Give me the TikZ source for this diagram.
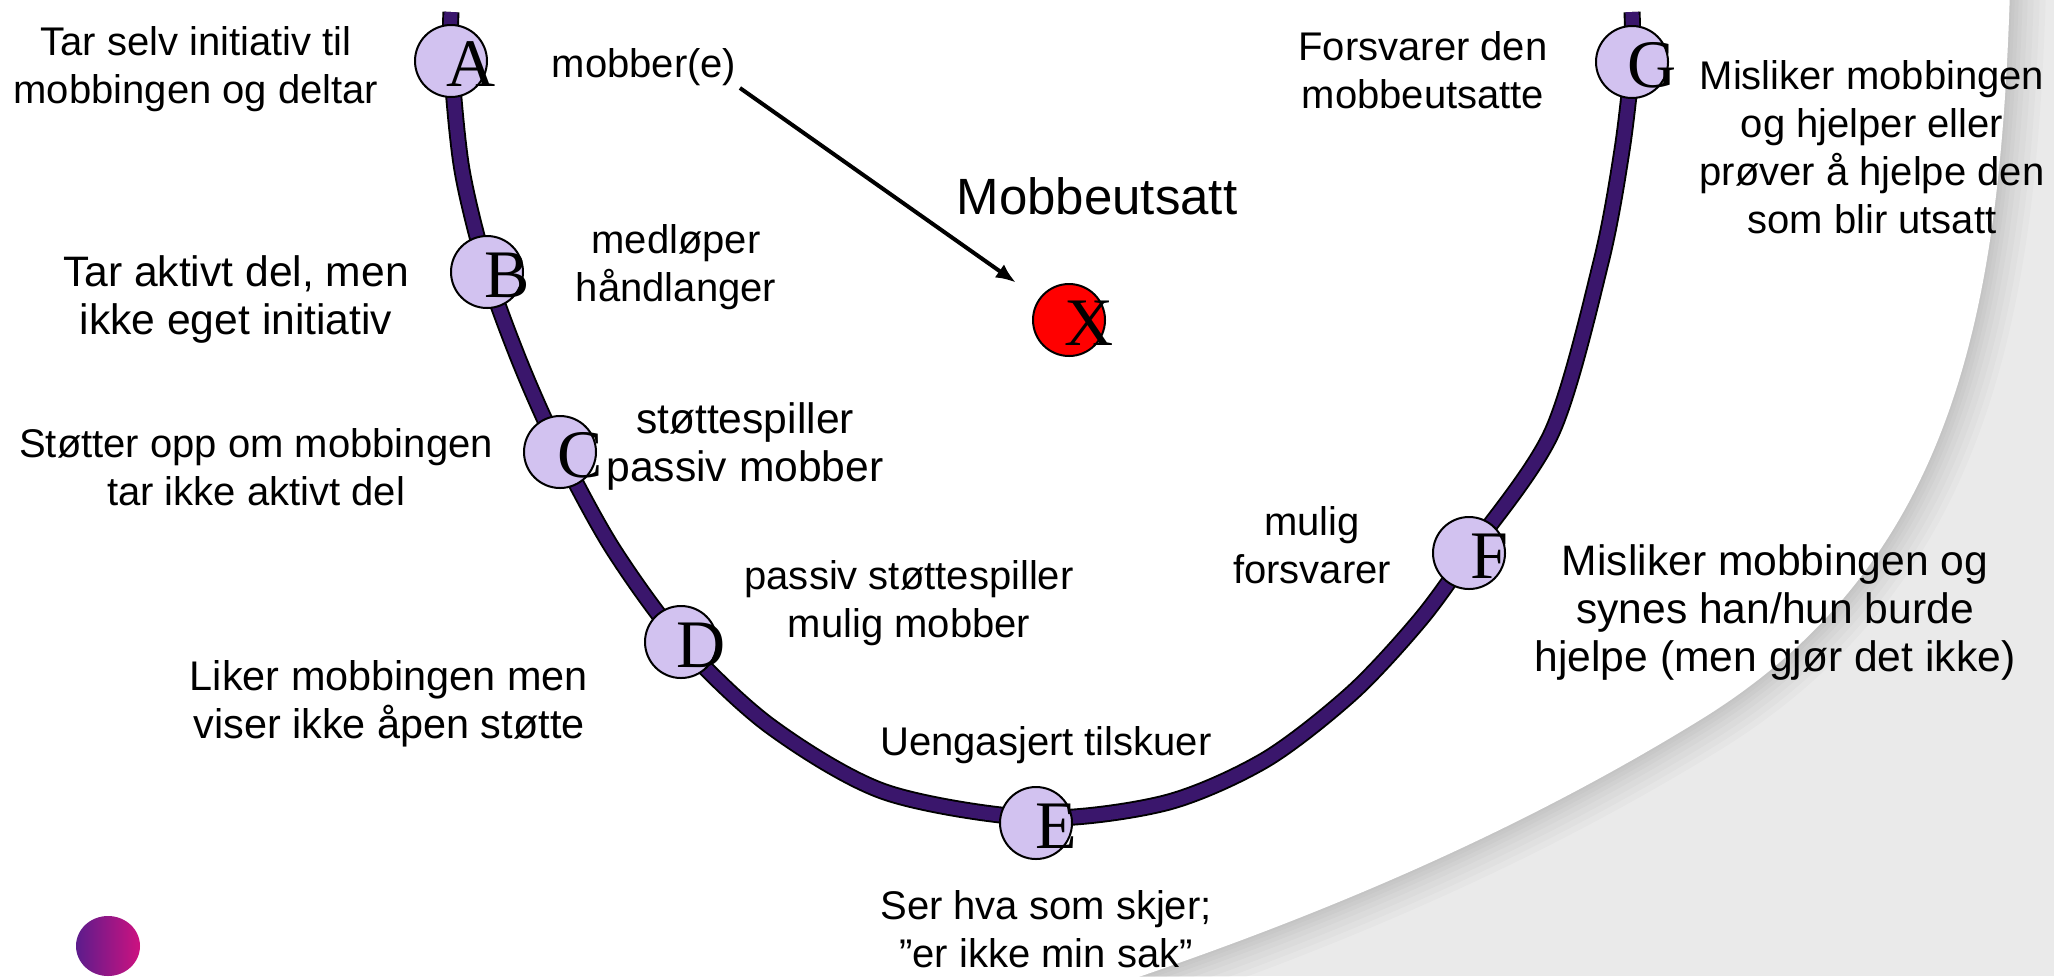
\documentclass[tikz,border=0pt]{standalone}
\usepackage{fontspec}
\setmainfont{Liberation Sans}
\newfontfamily\lserif{Liberation Serif}
\usetikzlibrary{arrows.meta}
\definecolor{curvepurple}{RGB}{58,22,108}
\definecolor{dotfill}{RGB}{210,194,240}
\definecolor{bggray}{RGB}{234,234,234}
\definecolor{blobA}{RGB}{92,28,140}
\definecolor{blobB}{RGB}{205,18,128}
\newcommand{\ml}[1]{\begin{tabular}[t]{@{}c@{}}#1\end{tabular}}
\begin{document}
\begin{tikzpicture}[x=0.5pt,y=-0.5pt,
  txt/.style={inner sep=0pt, anchor=base, font=\fontsize{20pt}{24pt}\selectfont},
  rtxt/.style={inner sep=0pt, anchor=base, font=\fontsize{21.3pt}{24pt}\selectfont},
  mtxt/.style={inner sep=0pt, anchor=base, font=\fontsize{20.7pt}{24pt}\selectfont},
  bigtxt/.style={inner sep=0pt, anchor=base, font=\fontsize{25.5pt}{30pt}\selectfont},
  dot/.style={circle, draw=black, line width=1pt, fill=dotfill, minimum size=36pt, inner sep=0pt},
  reddot/.style={dot, fill=red},
  letter/.style={inner sep=0pt, font=\lserif\fontsize{34pt}{34pt}\selectfont},
  arr/.style={-{Latex[length=10pt,width=8pt]}, line width=2pt, black},
  shadowline/.style={black, line cap=butt}
]
\useasboundingbox (0,0) rectangle (2054,976);
% background
\fill[bggray] (0,0) rectangle (2054,976);
\foreach \w in {36,30,24,18,13,9,5,2}{
  \draw[shadowline, opacity=0.018, line width=\w pt] (2010,-10) .. controls (2000,300) and (1960,560) .. (1700,720) .. controls (1492,848) and (1280,930) .. (1100,990);
}
\fill[white] (0,-10) -- (2010,-10) .. controls (2000,300) and (1960,560) .. (1700,720) .. controls (1492,848) and (1280,930) .. (1100,990) -- (0,990) -- cycle;

% curve points
\coordinate (top1) at (451,12);
\coordinate (cA) at (451,61);
\coordinate (p1) at (462,170);
\coordinate (cB) at (487,272);
\coordinate (p2) at (521,365);
\coordinate (cC) at (560,452);
\coordinate (p3) at (613,549);
\coordinate (cD) at (681,642);
\coordinate (p4) at (770,726);
\coordinate (p5) at (885,792);
\coordinate (cE) at (1036,818);
\coordinate (p6) at (1165,803);
\coordinate (p7) at (1265,760);
\coordinate (p8) at (1352,693);
\coordinate (p9) at (1420,620);
\coordinate (cF) at (1469,553);
\coordinate (p10) at (1552,432);
\coordinate (p11) at (1601,262);
\coordinate (p12) at (1622,150);
\coordinate (cG) at (1632,62);
\coordinate (top2) at (1632,12);

\draw[black, line width=8.5pt] plot[smooth] coordinates {(top1) (cA) (p1) (cB) (p2) (cC) (p3) (cD) (p4) (p5) (cE) (p6) (p7) (p8) (p9) (cF) (p10) (p11) (p12) (cG) (top2)};
\draw[curvepurple, line width=6.6pt] plot[smooth] coordinates {(top1) (cA) (p1) (cB) (p2) (cC) (p3) (cD) (p4) (p5) (cE) (p6) (p7) (p8) (p9) (cF) (p10) (p11) (p12) (cG) (top2)};

% circles
\node[dot] (A) at (451,61) {};
\node[dot] (B) at (487,272) {};
\node[dot] (C) at (560,452) {};
\node[dot] (D) at (681,642) {};
\node[dot] (E) at (1036,823) {};
\node[dot] (F) at (1469,553) {};
\node[dot] (G) at (1632,62) {};
\node[reddot] (X) at (1069,320) {};
\node[letter] (lA) at ([shift={(20,3)}]A.center) {A};
\node[letter] (lB) at ([shift={(20,3)}]B.center) {B};
\node[letter] (lC) at ([shift={(20,3)}]C.center) {C};
\node[letter] (lD) at ([shift={(20,3)}]D.center) {D};
\node[letter] (lE) at ([shift={(20,3)}]E.center) {E};
\node[letter] (lF) at ([shift={(20,3)}]F.center) {F};
\node[letter] (lG) at ([shift={(20,3)}]G.center) {G};
\node[letter] (lX) at ([shift={(20,3)}]X.center) {X};

% texts
\node[txt] (t1) at (196,55) {\ml{Tar selv initiativ til\\mobbingen og deltar}};
\node[txt] (mob) at (644,77) {mobber(e)};
\node[bigtxt] (mbu) at (1097,214) {Mobbeutsatt};
\node[txt] (t4) at (676,253) {\ml{medløper\\håndlanger}};
\node[rtxt] (t5) at (236,286) {\ml{Tar aktivt del, men\\ikke eget initiativ}};
\node[txt] (t6) at (256,457) {\ml{Støtter opp om mobbingen\\tar ikke aktivt del}};
\node[rtxt] (t7) at (745,433) {\ml{støttespiller\\passiv mobber}};
\node[txt] (t8) at (909,589) {\ml{passiv støttespiller\\mulig mobber}};
\node[mtxt] (t9) at (389,690) {\ml{Liker mobbingen men\\viser ikke åpen støtte}};
\node[txt] (t10) at (1046,755) {Uengasjert tilskuer};
\node[txt] (t11) at (1046,919) {\ml{Ser hva som skjer;\\”er ikke min sak”}};
\node[txt] (t12) at (1312,535) {\ml{mulig\\forsvarer}};
\node[rtxt] (t13) at (1775,575) {\ml{Misliker mobbingen og\\synes han/hun burde\\hjelpe (men gjør det ikke)}};
\node[txt] (t14) at (1423,60) {\ml{Forsvarer den\\mobbeutsatte}};
\node[txt] (t15) at (1872,89) {\ml{Misliker mobbingen\\og hjelper eller\\prøver å hjelpe den\\som blir utsatt}};

% arrow
\draw[arr, shorten >=14pt, shorten <=2pt] (mob.south east) -- (X);

% blob
\shade[left color=blobA, right color=blobB] (108,946) ellipse [x radius=32, y radius=30];
\end{tikzpicture}
\end{document}
